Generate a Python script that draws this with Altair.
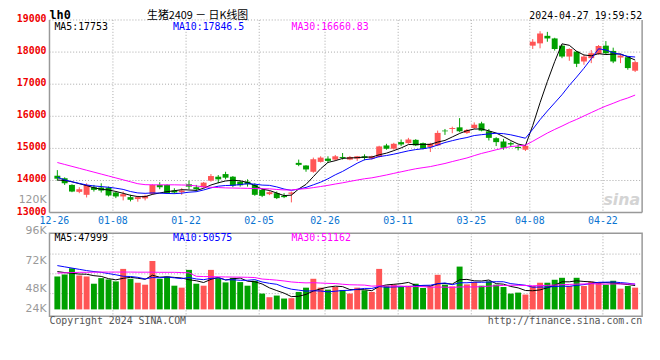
import altair as alt
import pandas as pd

# ---------------- data ----------------
dates = ["12-26", "12-27", "12-28", "12-29",
         "01-02", "01-03", "01-04", "01-05", "01-08", "01-09", "01-10", "01-11", "01-12",
         "01-15", "01-16", "01-17", "01-18", "01-19", "01-22", "01-23", "01-24", "01-25",
         "01-26", "01-29", "01-30", "01-31",
         "02-01", "02-02", "02-05", "02-06", "02-07", "02-08", "02-19", "02-20", "02-21",
         "02-22", "02-23", "02-26", "02-27", "02-28", "02-29",
         "03-01", "03-04", "03-05", "03-06", "03-07", "03-08", "03-11", "03-12", "03-13",
         "03-14", "03-15", "03-18", "03-19", "03-20", "03-21", "03-22", "03-25", "03-26",
         "03-27", "03-28", "03-29",
         "04-01", "04-02", "04-03", "04-08", "04-09", "04-10", "04-11", "04-12", "04-15",
         "04-16", "04-17", "04-18", "04-19", "04-22", "04-23", "04-24", "04-25", "04-26"]

open_ = [14149, 14067, 13862, 13646, 13554, 13790, 13780, 13780, 13626, 13503,
         13482, 13421, 13441, 13585, 13862, 13862, 13687, 13636, 13882, 13790,
         13790, 13995, 14118, 14200, 14118, 13964, 13964, 13862, 13708, 13574,
         13605, 13523, 13585, 14549, 14467, 14272, 14580, 14682, 14651, 14733,
         14651, 14682, 14754, 14682, 14733, 15092, 14989, 15195, 15164, 15266,
         15164, 15041, 15092, 15554, 15605, 15656, 15482, 15636, 15779, 15533,
         15318, 15215, 15164, 15041, 14959, 18200, 18272, 18507, 18425, 18200,
         17861, 18015, 17707, 17810, 17943, 18200, 18036, 17830, 17841, 17420]

high = [14323, 14098, 13882, 13790, 13913, 13862, 13913, 13810, 13656, 13656,
        13554, 13523, 13554, 13882, 13944, 13882, 13759, 13759, 13995, 13862,
        13954, 14200, 14169, 14272, 14139, 13995, 14036, 13913, 13759, 13667,
        13656, 13605, 13656, 14651, 14477, 14713, 14754, 14754, 14795, 14856,
        14764, 14764, 14815, 14774, 15082, 15143, 15174, 15277, 15328, 15287,
        15184, 15174, 15554, 15605, 15677, 15943, 15605, 15810, 15830, 15605,
        15349, 15297, 15215, 15113, 15092, 18405, 18651, 18630, 18446, 18220,
        18118, 18036, 17912, 18066, 18220, 18343, 18138, 17943, 17861, 17728]

low = [13995, 13862, 13636, 13605, 13472, 13656, 13626, 13503, 13451, 13380,
       13349, 13339, 13380, 13554, 13728, 13585, 13585, 13554, 13728, 13656,
       13769, 13964, 13913, 14036, 13790, 13810, 13810, 13523, 13482, 13544,
       13421, 13451, 13318, 14446, 14272, 14241, 14559, 14549, 14610, 14651,
       14631, 14610, 14631, 14651, 14713, 14959, 14959, 15072, 15143, 15072,
       14969, 14887, 15072, 15420, 15472, 15502, 15451, 15605, 15533, 15246,
       15072, 14959, 15041, 14938, 14918, 18097, 18118, 18323, 18046, 17810,
       17728, 17533, 17605, 17656, 17912, 17933, 17656, 17656, 17451, 17379]

close = [14056, 13913, 13656, 13728, 13862, 13708, 13687, 13533, 13503, 13574,
         13400, 13482, 13523, 13862, 13790, 13605, 13626, 13687, 13810, 13728,
         13933, 14139, 14036, 14087, 13841, 13851, 13882, 13554, 13523, 13636,
         13451, 13482, 13626, 14487, 14344, 14662, 14713, 14610, 14754, 14702,
         14733, 14754, 14702, 14754, 15061, 14989, 15143, 15123, 15277, 15092,
         14989, 15143, 15482, 15533, 15636, 15533, 15574, 15738, 15554, 15328,
         15195, 15020, 15123, 15010, 15082, 18323, 18579, 18425, 18097, 17861,
         18097, 17636, 17861, 17964, 18190, 17964, 17707, 17892, 17502, 17687]

ma5 = [14015, 14000, 13960, 13900, 13843, 13773, 13728, 13704, 13659, 13601,
       13539, 13498, 13496, 13568, 13611, 13652, 13681, 13714, 13704, 13691,
       13757, 13859, 13929, 13985, 14007, 13991, 13939, 13843, 13730, 13689,
       13609, 13529, 13544, 13736, 13878, 14120, 14366, 14563, 14617, 14688,
       14702, 14711, 14729, 14729, 14801, 14852, 14930, 15014, 15119, 15125,
       15125, 15125, 15197, 15248, 15357, 15465, 15552, 15603, 15607, 15545,
       15478, 15367, 15244, 15135, 15086, 15712, 16423, 17084, 17701, 18257,
       18212, 18023, 17910, 17884, 17950, 17923, 17937, 17943, 17851, 17753]

ma10 = [14100, 14020, 13960, 13910, 13860, 13830, 13810, 13790, 13760, 13722,
        13656, 13613, 13600, 13613, 13606, 13596, 13590, 13605, 13636, 13651,
        13705, 13770, 13822, 13844, 13849, 13874, 13899, 13886, 13857, 13848,
        13800, 13734, 13693, 13733, 13784, 13865, 13948, 14053, 14177, 14283,
        14411, 14539, 14646, 14673, 14745, 14777, 14820, 14872, 14924, 14963,
        14988, 15027, 15105, 15183, 15241, 15295, 15338, 15400, 15427, 15451,
        15472, 15459, 15423, 15371, 15316, 15595, 15895, 16164, 16418, 16672,
        16962, 17223, 17497, 17793, 18103, 18067, 17980, 17927, 17867, 17846.5]

ma30 = [14560, 14500, 14440, 14380, 14320, 14260, 14200, 14140, 14080, 14020,
        13960, 13900, 13870, 13865, 13865, 13865, 13865, 13860, 13855, 13830,
        13800, 13790, 13780, 13770, 13765, 13760, 13755, 13750, 13745, 13741,
        13720, 13706, 13705, 13730, 13746, 13778, 13812, 13848, 13890, 13928,
        13972, 14014, 14054, 14083, 14126, 14172, 14222, 14270, 14319, 14365,
        14400, 14433, 14482, 14530, 14590, 14646, 14702, 14775, 14843, 14899,
        14957, 15008, 15058, 15076, 15100, 15222, 15351, 15478, 15590, 15695,
        15807, 15903, 16009, 16116, 16220, 16319, 16405, 16497, 16571, 16660.83]

vol = [66160, 70130, 82700, 68150, 66160, 51610, 62850, 60210, 56240, 81380,
       61530, 53590, 49620, 97260, 61530, 65500, 47630, 43670, 79400, 51610,
       47630, 79400, 62850, 54250, 63520, 54910, 47630, 57560, 31760, 24480,
       27780, 21830, 22490, 35060, 43670, 61530, 43670, 39700, 44990, 39000,
       31760, 43670, 38370, 35060, 81380, 47630, 49620, 44990, 47630, 51610,
       43000, 46310, 69470, 49620, 46310, 86010, 50280, 54910, 47630, 56240,
       49620, 44990, 31760, 33740, 29770, 46970, 53590, 53590, 59550, 63520,
       46970, 63520, 46970, 55580, 53590, 49620, 57560, 41680, 46970, 43670]

vma5 = [76000, 74000, 72500, 71000, 70660, 67750, 66294, 61796, 59414, 62458,
        64442, 62590, 60472, 68676, 64706, 65500, 64308, 63118, 59546, 57562,
        53988, 60342, 64178, 59148, 61530, 62986, 56632, 55574, 51076, 43268,
        37842, 32682, 25668, 26328, 30166, 36916, 41284, 44726, 46712, 45778,
        39824, 39824, 39558, 37572, 46048, 49222, 50412, 51736, 54250, 48296,
        47370, 46708, 51604, 52002, 50942, 59544, 60338, 57426, 57028, 59014,
        51736, 50678, 46048, 43270, 37976, 37446, 39166, 43532, 48694, 55444,
        55444, 57430, 56106, 55312, 53326, 53856, 52664, 51606, 49884, 47999]

vma10 = [88000, 85500, 83000, 80500, 78000, 76000, 74500, 72000, 69500, 66559,
         66096, 64442, 61134, 64045, 63582, 64971, 63449, 61795, 64111, 61134,
         59744, 62325, 63648, 59347, 59546, 58487, 58487, 59876, 55112, 52399,
         50414, 44657, 40621, 38702, 36717, 37379, 36983, 35197, 36520, 37972,
         38370, 40554, 42142, 42142, 45913, 44523, 45118, 45647, 45911, 47172,
         48296, 48560, 51670, 53126, 49619, 53457, 53523, 54515, 54515, 54978,
         55640, 55508, 51737, 50149, 48495, 44591, 44922, 44790, 45982, 46710,
         46445, 48298, 49819, 52003, 54385, 54650, 55047, 53856, 52598, 50575]

vma30 = [73000, 73500, 74000, 74500, 74500, 74800, 75000, 75000, 75000, 75000,
         75000, 74800, 74800, 74800, 74500, 74500, 74500, 74000, 73500, 66500,
         66000, 65800, 65500, 65200, 65000, 64800, 64500, 64000, 61000, 60031,
         58751, 57141, 55134, 54031, 53282, 53612, 52973, 52289, 51914, 50502,
         49509, 49179, 48804, 46730, 47392, 46796, 46863, 46907, 45848, 45848,
         45693, 44590, 44811, 44657, 44083, 45120, 45208, 45120, 45649, 46707,
         47435, 48207, 48516, 48472, 48009, 47524, 47854, 48317, 48803, 49620,
         50127, 50789, 51075, 51759, 50833, 50899, 51164, 51054, 51032, 51162]

label_dates = ["12-26", "01-08", "01-22", "02-05", "02-26", "03-11", "03-25", "04-08", "04-22"]
price_ticks = [13000, 14000, 15000, 16000, 17000, 18000, 19000]
vol_labels = ["120K", "96K", "72K", "48K", "24K"]

# ---------------- tables ----------------
df = pd.DataFrame({
    "idx": list(range(len(dates))), "date": dates,
    "open": open_, "high": high, "low": low, "close": close,
    "ma5": ma5, "ma10": ma10, "ma30": ma30,
    "vol": vol, "vma5": vma5, "vma10": vma10, "vma30": vma30,
})
df["dir"] = ["up" if c >= o else "down" for o, c in zip(open_, close)]
df["v0"] = 0

gdf = pd.DataFrame({"gx": [dates.index(d) - 0.4 for d in label_dates], "label": label_dates})
pdf = pd.DataFrame({"p": price_ticks, "t": [str(p) for p in price_ticks]})
vlab = pd.DataFrame({"t": vol_labels, "py": [182, 213.5, 243.7, 272.7, 292.7]})
one = pd.DataFrame({"k": [0]})

# ---------------- layout ----------------
W, H = 600, 300
UP_H = 195
LO_TOP, LO_BOT = 216, 300
MONO = "DejaVu Sans Mono"
RED, GREEN = "#ff5555", "#00a000"
GRID = "#a8a8a8"
FRAME = "#999999"

xs = alt.Scale(domain=[-0.4, 79.28], nice=False, zero=False)
ys_up = alt.Scale(domain=[19000 - H / UP_H * 6000, 19000], nice=False, zero=False)
ys_lo = alt.Scale(domain=[-7 * 1985, 293 * 1985], nice=False, zero=False)
cscale = alt.Scale(domain=["up", "down"], range=[RED, GREEN])

X = alt.X("idx:Q", scale=xs, axis=None)
COL = alt.Color("dir:N", scale=cscale, legend=None)
base = alt.Chart(df)

# gridlines / frames
vgrid_up = alt.Chart(gdf.iloc[1:]).mark_rule(color=GRID, strokeDash=[1, 2], strokeWidth=1).encode(
    x=alt.X("gx:Q", scale=xs, axis=None), y=alt.value(0), y2=alt.value(UP_H))
vgrid_lo = alt.Chart(gdf.iloc[1:]).mark_rule(color=GRID, strokeDash=[1, 2], strokeWidth=1).encode(
    x=alt.X("gx:Q", scale=xs, axis=None), y=alt.value(LO_TOP), y2=alt.value(LO_BOT))
hgrid_up = alt.Chart(pdf[pdf.p > 13000]).mark_rule(color=GRID, strokeDash=[1, 2], strokeWidth=1).encode(
    y=alt.Y("p:Q", scale=ys_up, axis=None), x=alt.value(0), x2=alt.value(W))
hgrid_lo = alt.Chart(pd.DataFrame({"gy": [237, 257, 277]})).mark_rule(
    color=GRID, strokeDash=[1, 2], strokeWidth=1).encode(
    y=alt.Y("gy:Q", scale=None), x=alt.value(0), x2=alt.value(W))

frame_up_l = alt.Chart(one).mark_rule(color=FRAME, strokeWidth=1.5).encode(
    x=alt.value(0), y=alt.value(0), y2=alt.value(UP_H))
frame_up_r = alt.Chart(one).mark_rule(color=FRAME, strokeWidth=1.5).encode(
    x=alt.value(W), y=alt.value(0), y2=alt.value(UP_H))
frame_up_b = alt.Chart(one).mark_rule(color=FRAME, strokeWidth=1.5).encode(
    x=alt.value(0), x2=alt.value(W), y=alt.value(UP_H))
frame_lo = alt.Chart(one).mark_rect(fill=None, stroke=FRAME, strokeWidth=1.5).encode(
    x=alt.value(0), x2=alt.value(W), y=alt.value(LO_TOP), y2=alt.value(LO_BOT))

# candles
wick = base.mark_rule(strokeWidth=1).encode(
    x=X, y=alt.Y("low:Q", scale=ys_up, axis=None), y2="high:Q", color=COL)
body = base.mark_bar(size=6).encode(
    x=X, y=alt.Y("open:Q", scale=ys_up, axis=None), y2="close:Q", color=COL)
l5 = base.mark_line(color="black", strokeWidth=1).encode(x=X, y=alt.Y("ma5:Q", scale=ys_up, axis=None))
l10 = base.mark_line(color="#0000ff", strokeWidth=1).encode(x=X, y=alt.Y("ma10:Q", scale=ys_up, axis=None))
l30 = base.mark_line(color="#ff00ff", strokeWidth=1).encode(x=X, y=alt.Y("ma30:Q", scale=ys_up, axis=None))

# volume
vbar = base.mark_bar(size=6).encode(
    x=X, y=alt.Y("vol:Q", scale=ys_lo, axis=None), y2="v0:Q", color=COL)
v5 = base.mark_line(color="black", strokeWidth=1).encode(x=X, y=alt.Y("vma5:Q", scale=ys_lo, axis=None))
v10 = base.mark_line(color="#0000ff", strokeWidth=1).encode(x=X, y=alt.Y("vma10:Q", scale=ys_lo, axis=None))
v30 = base.mark_line(color="#ff00ff", strokeWidth=1).encode(x=X, y=alt.Y("vma30:Q", scale=ys_lo, axis=None))

# axis labels
ylab = alt.Chart(pdf).mark_text(font=MONO, fontSize=10, fontWeight="bold", color="#ee0000",
                                align="right", baseline="middle", dy=-1).encode(
    y=alt.Y("p:Q", scale=ys_up, axis=None), x=alt.value(-3), text="t:N")
vlabt = alt.Chart(vlab).mark_text(font="DejaVu Sans", fontSize=11, color="#999999",
                                  align="right", baseline="middle").encode(
    y=alt.Y("py:Q", scale=None), x=alt.value(-3), text="t:N")
xlab = alt.Chart(gdf).mark_text(font=MONO, fontSize=10, color="#0a74d1",
                                align="center", baseline="middle").encode(
    x=alt.X("gx:Q", scale=xs, axis=None), y=alt.value(204), text="label:N")


def txt(s, x, y, color="black", align="left", size=10, font=MONO, weight="normal",
        style="normal", baseline="middle"):
    return alt.Chart(one).mark_text(text=s, font=font, fontSize=size, color=color, align=align,
                                    baseline=baseline, fontWeight=weight, fontStyle=style).encode(
        x=alt.value(x), y=alt.value(y))


texts = [
    txt("lh0", 0, -1.5, size=12, weight="bold", baseline="alphabetic"),
    txt("生猪2409 － 日K线图", 150, -1, align="center", size=11, font="Noto Sans CJK SC",
        baseline="alphabetic"),
    txt("2024-04-27 19:59:52", 600, -4.5, align="right"),
    txt("MA5:17753", 5, 7),
    txt("MA10:17846.5", 125, 7, color="#0000ff"),
    txt("MA30:16660.83", 245, 7, color="#ff00ff"),
    txt("MA5:47999", 5, 220.5),
    txt("MA10:50575", 125, 220.5, color="#0000ff"),
    txt("MA30:51162", 245, 220.5, color="#ff00ff"),
    txt("Copyright 2024 SINA.COM", 0, 305, color="#555555"),
    txt("http://finance.sina.com.cn", 600, 305, color="#555555", align="right"),
    txt("sina", 598, 182, color="#d4d4d4", align="right", size=16, font="DejaVu Sans",
        weight="bold", style="italic"),
]

chart = alt.layer(
    vgrid_up, vgrid_lo, hgrid_up, hgrid_lo,
    wick, body, l5, l10, l30,
    vbar, v5, v10, v30,
    frame_up_l, frame_up_r, frame_up_b, frame_lo,
    ylab, vlabt, xlab, *texts,
).resolve_scale(y="independent").properties(
    width=W, height=H,
    autosize=alt.AutoSizeParams(type="none"),
    padding={"left": 42, "top": 10, "right": 10, "bottom": 34},
    background="white",
).configure_view(strokeWidth=0)

chart.save("out.html", embed_options={"renderer": "svg", "actions": False})
